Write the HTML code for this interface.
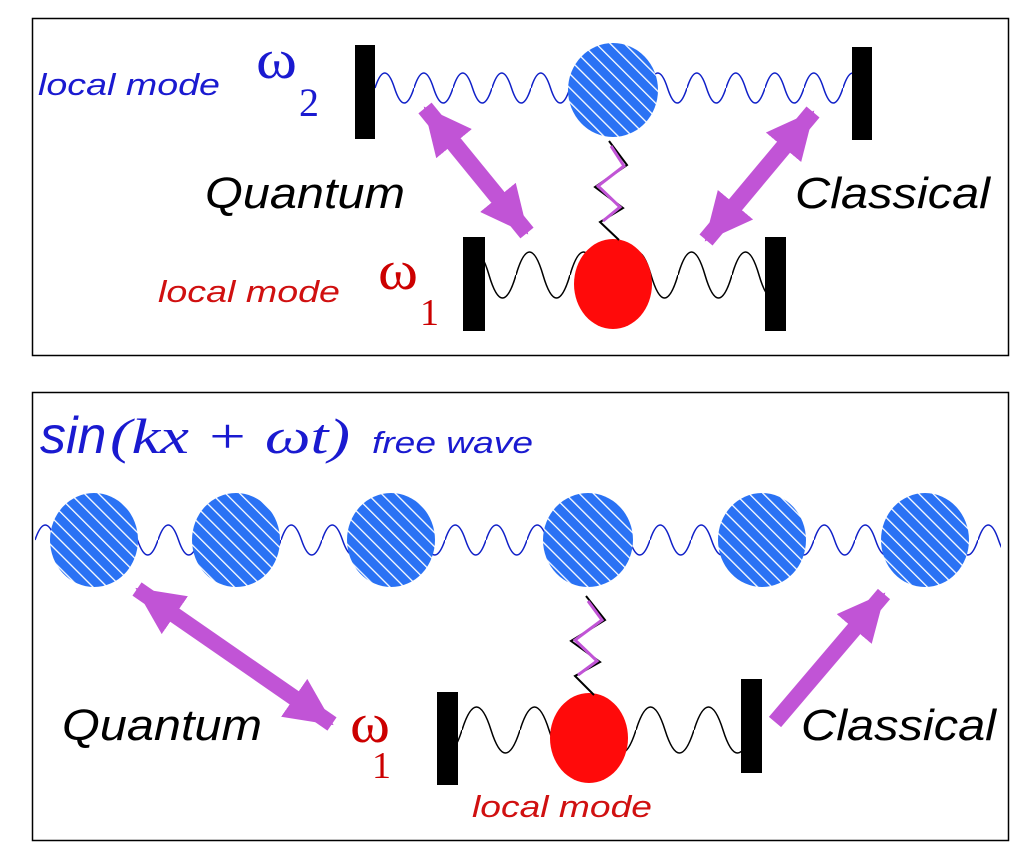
<!DOCTYPE html>
<html><head><meta charset="utf-8"><style>
html,body{margin:0;padding:0;background:#fff;}
svg{display:block;}
</style></head><body>
<svg width="1024" height="865" viewBox="0 0 1024 865" xmlns="http://www.w3.org/2000/svg">
<defs>
<pattern id="hatch" patternUnits="userSpaceOnUse" width="10" height="10" patternTransform="rotate(-45)">
<rect width="10" height="10" fill="#2a72f4"/>
<rect x="0" y="0" width="1.3" height="10" fill="#fff"/>
</pattern>
<pattern id="wTop" patternUnits="userSpaceOnUse" x="375" y="72" width="39" height="32">
<path d="M0 16 q9.75 -30 19.5 0 t19.5 0" fill="none" stroke="#1020c8" stroke-width="1.5"/>
</pattern>
<pattern id="wFree" patternUnits="userSpaceOnUse" x="35" y="524" width="41" height="32">
<path d="M0 16 q10.25 -30 20.5 0 t20.5 0" fill="none" stroke="#1020c8" stroke-width="1.5"/>
</pattern>
<pattern id="bTop" patternUnits="userSpaceOnUse" x="462" y="250" width="54" height="50">
<path d="M0 25 q13.5 -46 27 0 t27 0" fill="none" stroke="#000" stroke-width="1.5"/>
</pattern>
<pattern id="bBot" patternUnits="userSpaceOnUse" x="462" y="705" width="58" height="50">
<path d="M0 25 q14.5 -46 29 0 t29 0" fill="none" stroke="#000" stroke-width="1.5"/>
</pattern>
<marker id="ah" markerUnits="userSpaceOnUse" markerWidth="50" markerHeight="46" refX="46" refY="23" orient="auto-start-reverse">
<path d="M0 0 L48 23 L0 46 Z" fill="#c154d6"/>
</marker>
</defs>

<rect x="32.5" y="18.5" width="976" height="337" fill="none" stroke="#000" stroke-width="1.5"/>
<rect x="32.5" y="392.5" width="976" height="448" fill="none" stroke="#000" stroke-width="1.5"/>

<!-- TOP PANEL -->
<rect x="375" y="72" width="477" height="32" fill="url(#wTop)"/>
<rect x="475" y="250" width="295" height="50" fill="url(#bTop)"/>
<rect x="355" y="45" width="20" height="94" fill="#000"/>
<rect x="852" y="47" width="20" height="93" fill="#000"/>
<rect x="463" y="237" width="22" height="94" fill="#000"/>
<rect x="765" y="237" width="21" height="94" fill="#000"/>
<ellipse cx="613" cy="90" rx="45" ry="47" fill="url(#hatch)"/>
<ellipse cx="613" cy="284" rx="39" ry="45" fill="#ff0a0a"/>
<polyline points="609,141 627,165 595,187 623,208 600,222 619,240" fill="none" stroke="#000" stroke-width="2"/>
<polyline points="611,146 624,166 598,186 620,207 603,221" fill="none" stroke="#c154d6" stroke-width="3"/>
<line x1="425" y1="108" x2="527" y2="233" stroke="#c154d6" stroke-width="17" marker-start="url(#ah)" marker-end="url(#ah)"/>
<line x1="813" y1="112" x2="706" y2="240" stroke="#c154d6" stroke-width="17" marker-start="url(#ah)" marker-end="url(#ah)"/>

<g font-family="Liberation Sans, sans-serif" font-style="italic">
<text x="38" y="95" font-size="31" fill="#1a1ad0" textLength="182" lengthAdjust="spacingAndGlyphs">local mode</text>
<text x="205" y="208" font-size="44" fill="#000" textLength="200" lengthAdjust="spacingAndGlyphs">Quantum</text>
<text x="795" y="208" font-size="44" fill="#000" textLength="195" lengthAdjust="spacingAndGlyphs">Classical</text>
<text x="158" y="302" font-size="31" fill="#d01010" textLength="182" lengthAdjust="spacingAndGlyphs">local mode</text>
</g>
<g font-family="Liberation Serif, serif">
<text x="256" y="78" font-size="56" fill="#1a1ad0" textLength="41" lengthAdjust="spacingAndGlyphs">ω</text>
<text x="299" y="116" font-size="40" fill="#1a1ad0">2</text>
<text x="378" y="289" font-size="56" fill="#c00" textLength="40" lengthAdjust="spacingAndGlyphs">ω</text>
<text x="420" y="325" font-size="38" fill="#c00">1</text>
</g>

<!-- BOTTOM PANEL -->
<rect x="35" y="524" width="966" height="32" fill="url(#wFree)"/>
<ellipse cx="94" cy="540" rx="44" ry="47" fill="url(#hatch)"/>
<ellipse cx="236" cy="540" rx="44" ry="47" fill="url(#hatch)"/>
<ellipse cx="391" cy="540" rx="44" ry="47" fill="url(#hatch)"/>
<ellipse cx="588" cy="540" rx="45" ry="47" fill="url(#hatch)"/>
<ellipse cx="762" cy="540" rx="44" ry="47" fill="url(#hatch)"/>
<ellipse cx="925" cy="540" rx="44" ry="47" fill="url(#hatch)"/>
<rect x="455" y="705" width="290" height="50" fill="url(#bBot)"/>
<rect x="437" y="692" width="21" height="93" fill="#000"/>
<rect x="741" y="679" width="21" height="94" fill="#000"/>
<ellipse cx="589" cy="738" rx="39" ry="45" fill="#ff0a0a"/>
<polyline points="586,596 605,620 571,641 600,662 575,676 594,695" fill="none" stroke="#000" stroke-width="2"/>
<polyline points="588,601 602,620 575,640 597,661 578,675" fill="none" stroke="#c154d6" stroke-width="3"/>
<line x1="137" y1="589" x2="332" y2="724" stroke="#c154d6" stroke-width="16" marker-start="url(#ah)" marker-end="url(#ah)"/>
<line x1="775" y1="722" x2="884" y2="594" stroke="#c154d6" stroke-width="16" marker-end="url(#ah)"/>

<g font-style="italic" fill="#1a1ad0">
<text x="40" y="453" font-size="52" font-family="Liberation Sans, sans-serif">sin</text>
<text x="110" y="453" font-size="50" font-family="Liberation Serif, serif" textLength="240" lengthAdjust="spacingAndGlyphs">(kx + ωt)</text>
<text x="372" y="453" font-size="31" font-family="Liberation Sans, sans-serif" textLength="161" lengthAdjust="spacingAndGlyphs">free wave</text>
</g>
<g font-family="Liberation Sans, sans-serif" font-style="italic">
<text x="62" y="740" font-size="44" fill="#000" textLength="200" lengthAdjust="spacingAndGlyphs">Quantum</text>
<text x="801" y="740" font-size="44" fill="#000" textLength="195" lengthAdjust="spacingAndGlyphs">Classical</text>
<text x="472" y="817" font-size="31" fill="#d01010" textLength="180" lengthAdjust="spacingAndGlyphs">local mode</text>
</g>
<g font-family="Liberation Serif, serif" fill="#c00">
<text x="350" y="742" font-size="56" textLength="40" lengthAdjust="spacingAndGlyphs">ω</text>
<text x="372" y="778" font-size="38">1</text>
</g>
</svg>
</body></html>
